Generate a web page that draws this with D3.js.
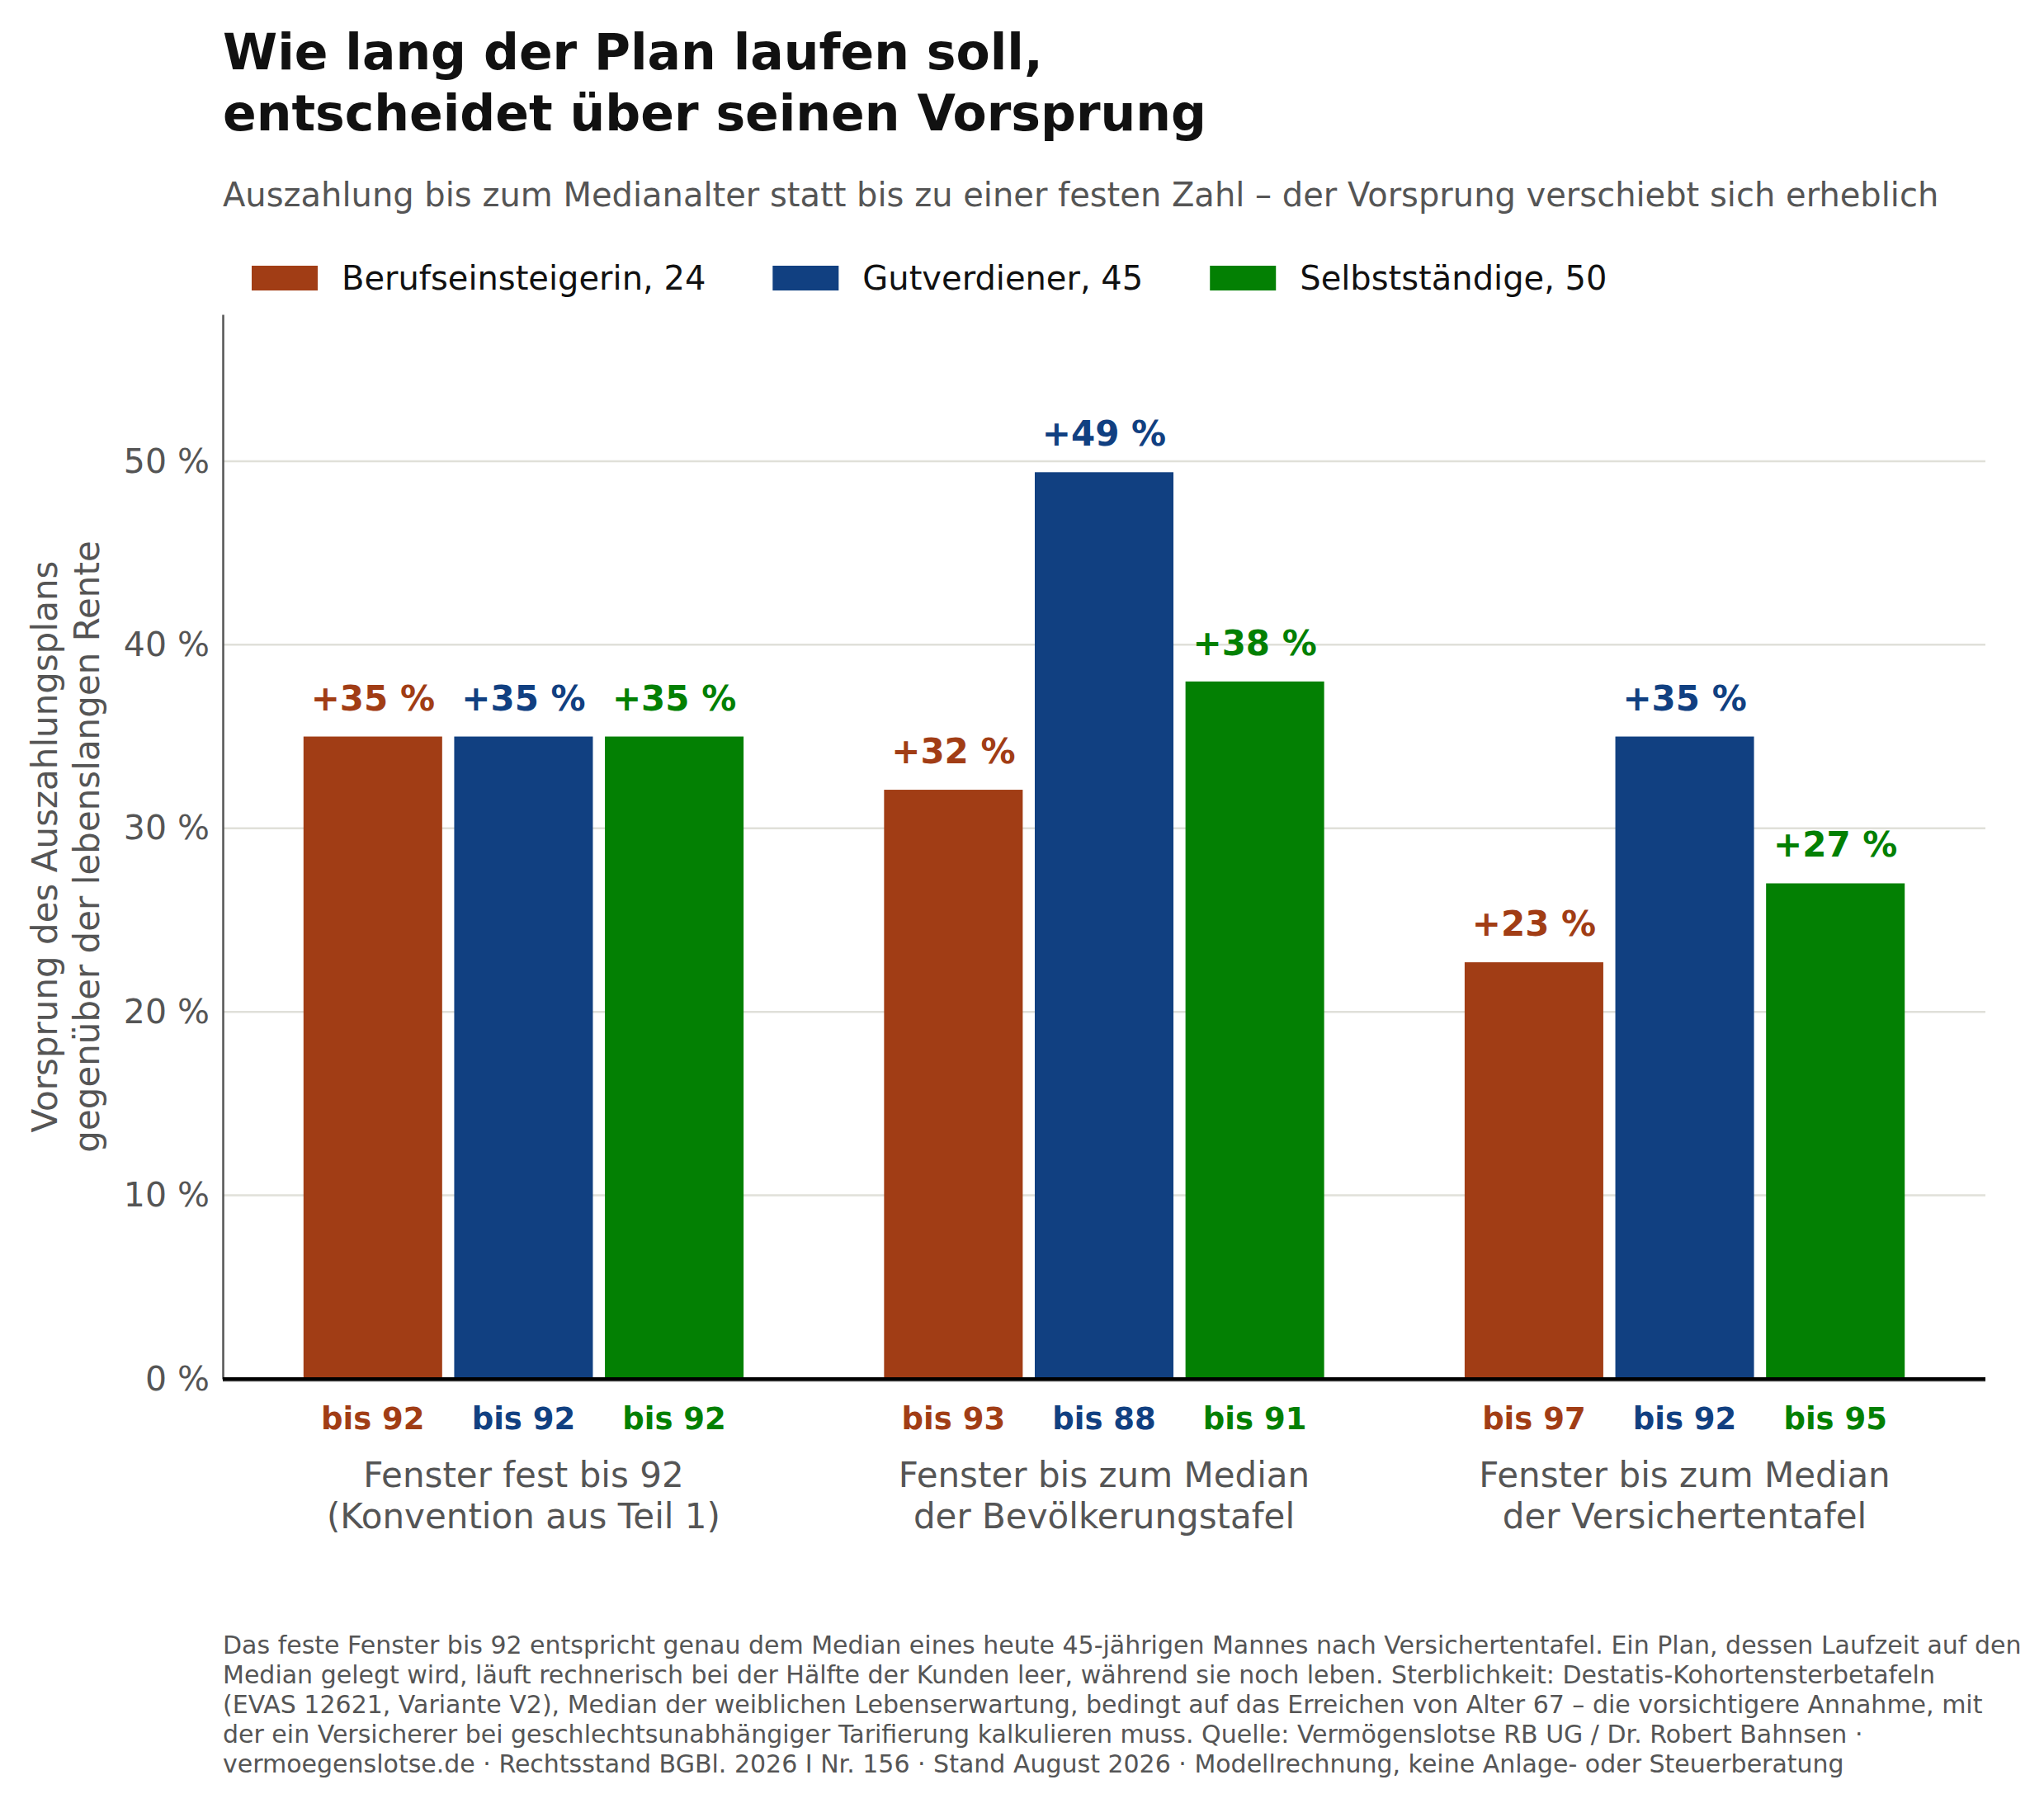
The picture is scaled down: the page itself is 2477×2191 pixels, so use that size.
<!DOCTYPE html>
<html>
<head>
<meta charset="utf-8">
<script src="https://cdn.jsdelivr.net/npm/d3@7"></script>
<style>
  body { margin: 0; background: #fff; }
  text { font-family: 'DejaVu Sans', sans-serif; }
</style>
</head>
<body>
<svg id="chart"></svg>
<script>
// Size
const width = 2477;
const height = 2191;
const margin = {top: 381, right: 71, bottom: 520, left: 270};

// Colors
const seriesColors = ['#a13d15', '#114081', '#038003'];
const grey = '#555555';
const gridColor = '#e0e0d9';

// Data
const seriesNames = ['Berufseinsteigerin, 24', 'Gutverdiener, 45', 'Selbstständige, 50'];
const groupLabels = [
  ['Fenster fest bis 92', '(Konvention aus Teil 1)'],
  ['Fenster bis zum Median', 'der Bevölkerungstafel'],
  ['Fenster bis zum Median', 'der Versichertentafel']
];
const advantage = [
  [35.0, 35.0, 35.0],
  [32.1, 49.4, 38.0],
  [22.7, 35.0, 27.0]
];
const endAge = [
  [92, 92, 92],
  [93, 88, 91],
  [97, 92, 95]
];
const yTicks = [0, 10, 20, 30, 40, 50];
const yMax = 58;

const title = ['Wie lang der Plan laufen soll,', 'entscheidet über seinen Vorsprung'];
const subtitle = 'Auszahlung bis zum Medianalter statt bis zu einer festen Zahl – der Vorsprung verschiebt sich erheblich';
const yLabel = ['Vorsprung des Auszahlungsplans', 'gegenüber der lebenslangen Rente'];
const footnote = [
  'Das feste Fenster bis 92 entspricht genau dem Median eines heute 45-jährigen Mannes nach Versichertentafel. Ein Plan, dessen Laufzeit auf den',
  'Median gelegt wird, läuft rechnerisch bei der Hälfte der Kunden leer, während sie noch leben. Sterblichkeit: Destatis-Kohortensterbetafeln',
  '(EVAS 12621, Variante V2), Median der weiblichen Lebenserwartung, bedingt auf das Erreichen von Alter 67 – die vorsichtigere Annahme, mit',
  'der ein Versicherer bei geschlechtsunabhängiger Tarifierung kalkulieren muss. Quelle: Vermögenslotse RB UG / Dr. Robert Bahnsen ·',
  'vermoegenslotse.de · Rechtsstand BGBl. 2026 I Nr. 156 · Stand August 2026 · Modellrechnung, keine Anlage- oder Steuerberatung'
];

const rows = [];
advantage.forEach((vals, g) => {
  vals.forEach((v, s) => rows.push({group: g, series: s, value: v, age: endAge[g][s]}));
});

const svg = d3.select('#chart')
  .attr('width', width)
  .attr('height', height);

// Scales
const x0 = d3.scaleBand()
  .domain(d3.range(groupLabels.length))
  .range([margin.left, width - margin.right])
  .paddingInner(0.242)
  .paddingOuter(0.139);
const x1 = d3.scaleBand()
  .domain(d3.range(seriesNames.length))
  .range([0, x0.bandwidth()])
  .paddingInner(0.08);
const y = d3.scaleLinear()
  .domain([0, yMax])
  .range([height - margin.bottom, margin.top]);

// Title and subtitle
svg.append('g')
  .selectAll('text')
  .data(title)
  .join('text')
  .attr('x', margin.left)
  .attr('y', (d, i) => 84 + i * 74)
  .attr('font-size', 60)
  .attr('font-weight', 'bold')
  .attr('fill', '#111')
  .text(d => d);

svg.append('text')
  .attr('x', margin.left)
  .attr('y', 250)
  .attr('font-size', 40)
  .attr('fill', grey)
  .text(subtitle);

// Legend
const legend = svg.append('g').attr('class', 'legend');
let legendX = 305;
seriesNames.forEach((name, i) => {
  legend.append('rect')
    .attr('x', legendX)
    .attr('y', 322)
    .attr('width', 80)
    .attr('height', 30)
    .attr('fill', seriesColors[i]);
  const t = legend.append('text')
    .attr('x', legendX + 109)
    .attr('y', 351)
    .attr('font-size', 40)
    .attr('fill', '#111')
    .text(name);
  legendX += 109 + t.node().getComputedTextLength() + 81;
});

// Grid
svg.append('g')
  .attr('class', 'grid')
  .selectAll('line')
  .data(yTicks.filter(d => d > 0))
  .join('line')
  .attr('x1', margin.left)
  .attr('x2', width - margin.right)
  .attr('y1', d => y(d))
  .attr('y2', d => y(d))
  .attr('stroke', gridColor)
  .attr('stroke-width', 2.5);

// Y axis
const yAxis = svg.append('g')
  .attr('transform', `translate(${margin.left},0)`)
  .call(d3.axisLeft(y).tickValues(yTicks).tickSize(0).tickPadding(16).tickFormat(d => d + ' %'));
yAxis.select('.domain').attr('stroke', grey).attr('stroke-width', 2.5);
yAxis.selectAll('text')
  .attr('font-size', 41)
  .attr('fill', grey)
  .attr('font-family', 'DejaVu Sans');

svg.append('text')
  .attr('transform', `translate(69,${(y(0) + y(yMax)) / 2}) rotate(-90)`)
  .attr('text-anchor', 'middle')
  .attr('font-size', 42)
  .attr('fill', grey)
  .selectAll('tspan')
  .data(yLabel)
  .join('tspan')
  .attr('x', 0)
  .attr('dy', (d, i) => i === 0 ? 0 : 51)
  .text(d => d);

// Bars
const bars = svg.append('g').attr('class', 'bars');
bars.selectAll('rect')
  .data(rows)
  .join('rect')
  .attr('x', d => x0(d.group) + x1(d.series))
  .attr('y', d => y(d.value))
  .attr('width', x1.bandwidth())
  .attr('height', d => y(0) - y(d.value))
  .attr('fill', d => seriesColors[d.series]);

// Value labels
bars.selectAll('text.value')
  .data(rows)
  .join('text')
  .attr('class', 'value')
  .attr('x', d => x0(d.group) + x1(d.series) + x1.bandwidth() / 2)
  .attr('y', d => y(d.value) - 32)
  .attr('text-anchor', 'middle')
  .attr('font-size', 42)
  .attr('font-weight', 'bold')
  .attr('fill', d => seriesColors[d.series])
  .text(d => '+' + Math.round(d.value) + ' %');

// Baseline
svg.append('line')
  .attr('x1', margin.left)
  .attr('x2', width - margin.right)
  .attr('y1', y(0) + 2)
  .attr('y2', y(0) + 2)
  .attr('stroke', grey)
  .attr('stroke-width', 2.5);
svg.append('line')
  .attr('x1', margin.left)
  .attr('x2', width - margin.right)
  .attr('y1', y(0))
  .attr('y2', y(0))
  .attr('stroke', '#000')
  .attr('stroke-width', 4);

// Age labels under each bar
svg.append('g')
  .selectAll('text')
  .data(rows)
  .join('text')
  .attr('x', d => x0(d.group) + x1(d.series) + x1.bandwidth() / 2)
  .attr('y', y(0) + 61)
  .attr('text-anchor', 'middle')
  .attr('font-size', 37)
  .attr('font-weight', 'bold')
  .attr('fill', d => seriesColors[d.series])
  .text(d => 'bis ' + d.age);

// Group labels
svg.append('g')
  .selectAll('text')
  .data(groupLabels)
  .join('text')
  .attr('x', (d, i) => x0(i) + x0.bandwidth() / 2)
  .attr('y', y(0) + 131)
  .attr('text-anchor', 'middle')
  .attr('font-size', 42)
  .attr('fill', grey)
  .selectAll('tspan')
  .data(d => d)
  .join('tspan')
  .attr('x', function() { return d3.select(this.parentNode).attr('x'); })
  .attr('dy', (d, i) => i === 0 ? 0 : 50)
  .text(d => d);

// Footnote
svg.append('g')
  .selectAll('text')
  .data(footnote)
  .join('text')
  .attr('x', margin.left)
  .attr('y', (d, i) => 2004 + i * 36)
  .attr('font-size', 30)
  .attr('fill', grey)
  .text(d => d);
</script>
</body>
</html>
